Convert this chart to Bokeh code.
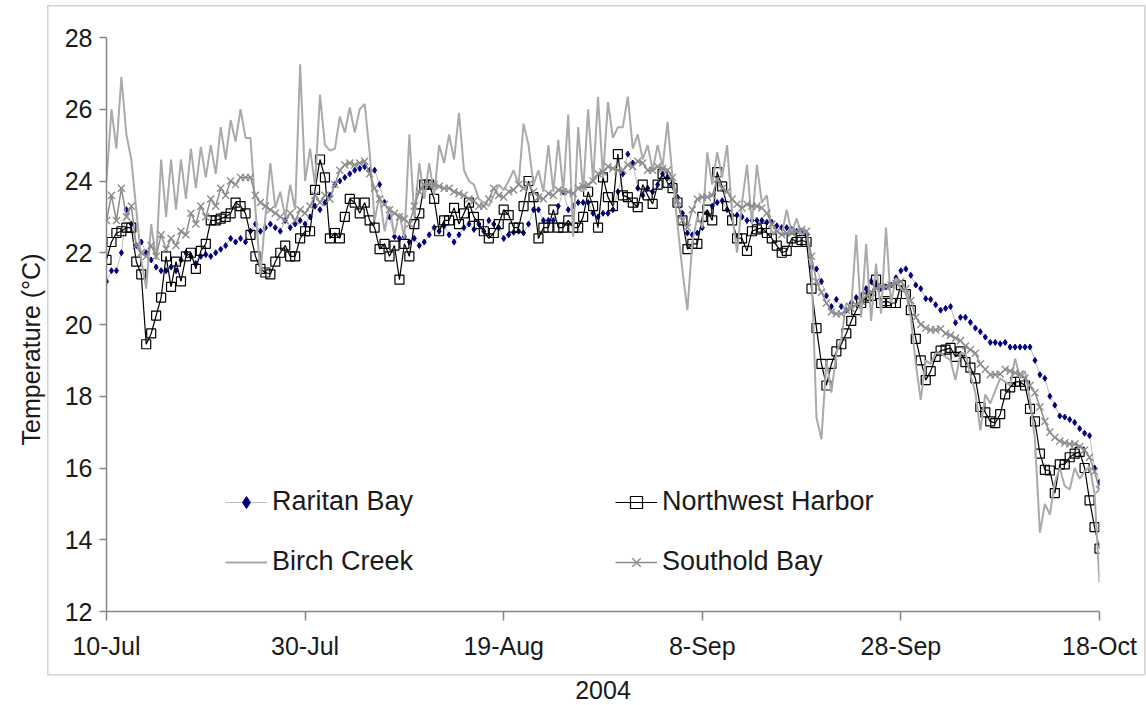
import numpy as np
from bokeh.plotting import figure
from bokeh.models import FixedTicker, Legend, LegendItem, Title
from bokeh.embed import file_html
from bokeh.resources import INLINE

# time axis: days after 10-Jul-2004, half-day steps
days = np.arange(0, 100.5, 0.5)

x_tick_days = [0, 20, 40, 60, 80, 100]
x_tick_labels = ["10-Jul", "30-Jul", "19-Aug", "8-Sep", "28-Sep", "18-Oct"]
y_ticks = [12, 14, 16, 18, 20, 22, 24, 26, 28]

raritan_bay = [
    21.2, 21.5, 21.5, 22.0, 23.2, 22.8, 22.2, 22.3, 22.0, 21.8,
    21.6, 21.5, 21.5, 21.6, 21.5, 21.8, 22.0, 21.9, 21.7, 21.9,
    21.95, 21.9, 22.0, 22.1, 22.2, 22.4, 22.3, 22.4, 22.3, 22.6,
    22.8, 22.6, 22.7, 22.8, 22.7, 22.6, 22.9, 22.7, 22.8, 22.9, 22.8,
    23.0, 23.3, 23.2, 23.4, 23.6, 23.9, 24.0, 24.1, 24.2, 24.3,
    24.35, 24.4, 24.3, 24.3, 23.9, 23.4, 23.0, 22.45, 22.4, 22.45,
    22.3, 22.4, 22.2, 22.3, 22.5, 22.7, 22.6, 22.75, 22.5, 22.3,
    22.5, 22.7, 22.8, 22.65, 22.8, 22.6, 22.9, 22.8, 22.7, 22.4,
    22.5, 22.57, 22.6, 22.55, 22.8, 23.2, 23.2, 22.9, 22.9, 22.9,
    23.3, 23.7, 23.2, 23.3, 23.4, 23.4, 23.4, 23.1, 23.0, 23.1,
    23.1, 23.2, 23.7, 24.2, 24.75, 24.5, 23.8, 23.6, 23.8, 23.7,
    23.9, 24.2, 24.1, 23.95, 23.55, 23.1, 22.55, 22.5, 22.55, 22.7,
    23.1, 23.3, 23.4, 23.45, 23.2, 23.05, 23.05, 23.0, 22.9, 22.9,
    22.9, 22.9, 22.85, 22.85, 22.75, 22.7, 22.7, 22.65, 22.6, 22.6,
    22.5, 21.6, 21.55, 21.2, 20.8, 20.5, 20.7, 20.5, 20.4, 20.6,
    20.75, 20.8, 21.0, 21.2, 21.1, 21.0, 21.05, 21.1, 21.3, 21.5,
    21.55, 21.37, 21.1, 21.0, 20.72, 20.7, 20.55, 20.4, 20.45, 20.5,
    20.05, 20.2, 20.2, 20.06, 19.9, 19.8, 19.65, 19.5, 19.5, 19.46,
    19.5, 19.37, 19.37, 19.37, 19.37, 19.37, 19.0, 18.6, 18.5, 18.0,
    17.75, 17.45, 17.42, 17.35, 17.27, 17.1, 16.97, 16.9, 16.0, 15.6,
]

northwest_harbor = [
    21.8, 22.3, 22.55, 22.6, 22.7, 22.7, 21.75, 21.4, 19.45, 19.75,
    20.25, 20.75, 21.9, 21.05, 21.75, 21.2, 21.9, 22.0, 21.55, 22.05,
    22.25, 22.9, 22.9, 22.95, 23.0, 23.1, 23.4, 23.3, 23.1, 22.5,
    21.9, 21.55, 21.45, 21.4, 21.75, 22.0, 22.2, 21.9, 21.9, 22.4, 22.6,
    22.6, 23.75, 24.6, 24.1, 22.4, 22.55, 22.4, 23.0, 23.5, 23.4,
    23.1, 23.4, 22.9, 22.7, 22.1, 22.25, 21.9, 22.2, 21.25, 22.25,
    21.9, 22.8, 23.1, 23.9, 23.9, 23.5, 22.6, 22.9, 22.9, 23.25,
    22.8, 23.1, 23.4, 23.0, 22.8, 22.6, 22.4, 22.55, 22.8, 23.2,
    23.05, 22.7, 22.7, 23.3, 24.0, 23.55, 22.4, 22.7, 22.7, 23.2,
    22.7, 22.7, 22.9, 22.7, 22.7, 23.0, 23.7, 23.3, 22.7, 24.1,
    23.55, 23.3, 24.75, 23.6, 23.55, 23.4, 23.27, 23.9, 23.6, 23.36,
    23.9, 24.2, 23.95, 23.8, 23.4, 22.9, 22.1, 22.25, 22.25, 23.0,
    23.2, 22.9, 24.25, 23.85, 23.3, 22.9, 22.4, 22.4, 22.05, 22.6,
    22.65, 22.7, 22.55, 22.4, 22.2, 22.0, 22.05, 22.4, 22.3, 22.35,
    22.3, 21.0, 19.9, 18.9, 18.3, 18.9, 19.25, 19.45, 19.75, 20.1,
    20.4, 20.6, 20.75, 20.8, 21.25, 20.6, 20.65, 20.6, 20.6, 21.1,
    20.85, 20.4, 19.6, 19.0, 18.45, 18.7, 19.1, 19.27, 19.3, 19.35,
    19.1, 19.25, 18.95, 18.8, 18.5, 17.7, 17.55, 17.3, 17.25, 17.5,
    18.05, 18.25, 18.4, 18.4, 18.3, 17.65, 17.3, 16.4, 15.95, 15.93,
    15.3, 16.1, 16.1, 16.3, 16.4, 16.45, 16.0, 15.1, 14.35, 13.75,
]

birch_creek = [
    24.0, 26.0, 24.9, 26.9, 25.3, 24.6, 23.2, 21.8, 21.0, 22.8,
    21.8, 24.6, 23.0, 24.6, 23.2, 24.6, 23.5, 24.9, 23.8, 24.95,
    24.1, 25.0, 24.2, 25.5, 24.6, 25.7, 25.1, 26.0, 25.2, 25.2,
    23.2, 21.4, 23.0, 24.5, 23.25, 23.7, 23.0, 23.9, 23.2, 27.25, 24.0,
    24.9, 23.9, 26.4, 25.0, 24.85, 24.9, 25.8, 25.35, 26.05, 25.35,
    26.0, 26.15, 24.8, 22.9, 23.6, 22.6, 23.3, 22.5, 23.1, 22.4,
    25.3, 23.0, 24.5, 23.5, 24.5, 23.6, 25.0, 24.5, 25.3, 24.6,
    25.9, 24.3, 24.0, 23.9, 23.5, 23.4, 23.3, 23.6, 23.9, 23.75,
    24.0, 24.3, 23.9, 25.6, 25.0, 23.9, 24.3, 23.7, 25.0, 23.7,
    25.15, 23.7, 25.85, 22.45, 25.5, 23.7, 26.0, 24.0, 26.35, 24.1,
    26.2, 25.2, 25.5, 25.5, 26.35, 24.9, 25.3, 24.6, 25.0, 24.3,
    25.0, 24.4, 25.65, 24.1, 22.8, 21.5, 20.4, 22.3, 23.0, 22.7,
    24.8, 23.9, 24.8, 24.1, 25.0, 23.1, 22.0, 23.4, 24.45, 22.8,
    24.45, 23.4, 23.6, 22.55, 22.6, 22.5, 23.2, 22.55, 22.95, 22.5,
    22.6, 21.6, 17.4, 16.8, 19.0, 18.1, 19.2, 19.6, 20.6, 20.5,
    22.5, 20.2, 22.25, 20.1, 21.7, 20.3, 22.7, 20.6, 21.3, 21.0,
    20.9, 20.2, 18.9, 17.9, 19.0, 18.9, 19.2, 19.2, 19.1, 19.0,
    18.45, 19.2, 19.2, 18.6, 18.1, 17.05, 18.05, 17.8, 18.15, 18.5,
    18.4, 18.3, 19.05, 18.5, 18.7, 17.9, 16.8, 14.2, 15.0, 14.7,
    15.6, 16.0, 15.5, 15.4, 16.0, 15.7, 15.9, 16.05, 15.3, 12.8,
]

southold_bay = [
    22.9, 23.6, 22.9, 23.8, 23.0, 23.3, 22.2, 22.0, 21.9, 22.2,
    21.9, 22.5, 22.1, 22.4, 22.2, 22.6, 22.5, 23.1, 22.8, 23.3,
    23.0, 23.5, 23.3, 23.8, 23.6, 24.0, 23.9, 24.1, 24.1, 24.1,
    23.6, 23.4, 23.3, 23.2, 23.1, 23.0, 22.9, 23.1, 22.9, 23.2, 23.1,
    23.3, 23.6, 23.4, 23.6, 23.5, 23.9, 24.3, 24.45, 24.5, 24.45,
    24.5, 24.55, 24.2, 23.8, 23.5, 23.35, 23.2, 23.1, 23.0, 22.95,
    22.8, 23.3, 23.7, 23.9, 23.9, 23.9, 23.85, 23.8, 23.8, 23.7,
    23.65, 23.6, 23.5, 23.45, 23.3, 23.3, 23.5, 23.8, 23.6, 23.55,
    23.7, 23.75, 23.9, 23.8, 23.9, 23.7, 23.55, 23.5, 23.65, 23.6,
    23.75, 23.7, 23.7, 23.65, 23.8, 23.85, 23.9, 24.0, 24.2, 24.25,
    24.4, 24.35, 24.3, 24.3, 24.45, 24.4, 24.55, 24.5, 24.3, 24.3,
    24.4, 24.35, 24.3, 24.1, 23.45, 22.9, 22.7, 23.2, 23.5, 23.55,
    23.55, 23.6, 24.05, 23.8, 23.7, 23.5, 23.35, 23.25, 23.35, 23.3,
    23.3, 23.25, 23.1, 22.8, 22.6, 22.5, 22.55, 22.55, 22.6, 22.65,
    22.6, 21.9, 21.2, 20.9, 20.6, 20.35, 20.3, 20.3, 20.4, 20.45,
    20.55, 20.65, 20.8, 20.9, 21.0, 21.05, 21.05, 21.1, 21.15, 21.2,
    21.0, 20.67, 20.2, 20.0, 19.9, 19.85, 19.85, 19.88, 19.75, 19.7,
    19.62, 19.55, 19.4, 19.3, 19.2, 18.9, 18.75, 18.6, 18.6, 18.62,
    18.75, 18.7, 18.65, 18.62, 18.5, 18.3, 18.1, 17.7, 17.3, 17.0,
    16.85, 16.75, 16.7, 16.67, 16.67, 16.6, 16.5, 16.3, 15.9, 15.4,
]

FONT = "Liberation Sans"
TXT = "#1a1a1a"
AXIS = "#868686"
FRAME = "#d4d4d4"

# thin light-grey chart-area border drawn behind the (transparent) canvas margins
border_css = {
    "background-image": ", ".join([f"linear-gradient({FRAME}, {FRAME})"] * 4),
    "background-position": "47px 5px, 47px 674px, 47px 5px, 1144px 5px",
    "background-size": "1098px 1.5px, 1098px 1.5px, 1.5px 670px, 1.5px 670px",
    "background-repeat": "no-repeat",
}

p = figure(width=1146, height=705, x_range=(0, 100), y_range=(12, 28),
           output_backend="svg", toolbar_location=None,
           min_border_left=106, min_border_right=47,
           min_border_top=37, min_border_bottom=94,
           styles=border_css)
p.outline_line_color = None
p.xgrid.visible = False
p.ygrid.visible = False
p.background_fill_color = "white"
p.border_fill_color = None

r1l = p.line(days, raritan_bay, line_color="#bdbdbd", line_width=1)
r1m = p.scatter(days, raritan_bay, marker="diamond", size=6,
                fill_color="#000080", line_color="#000080")
r2l = p.line(days, northwest_harbor, line_color="black", line_width=1.2)
r2m = p.scatter(days, northwest_harbor, marker="square", size=9,
                fill_alpha=0, line_color="black", line_width=1.2)
r3l = p.line(days, birch_creek, line_color="#aaaaaa", line_width=2)
r4l = p.line(days, southold_bay, line_color="#8c8c8c", line_width=1.5)
r4m = p.scatter(days, southold_bay, marker="x", size=10,
                line_color="#8c8c8c", line_width=1.4)

# axes
for ax in (p.xaxis, p.yaxis):
    ax.axis_line_color = AXIS
    ax.axis_line_width = 1.5
    ax.major_tick_line_color = AXIS
    ax.major_tick_line_width = 1.5
    ax.major_tick_in = 0
    ax.minor_tick_line_color = None
    ax.major_label_text_font = FONT
    ax.major_label_text_font_size = "25px"
    ax.major_label_text_color = TXT
    ax.axis_label_text_font = FONT
    ax.axis_label_text_font_style = "normal"
    ax.axis_label_text_color = TXT

p.xaxis.ticker = FixedTicker(ticks=x_tick_days)
p.xaxis.major_label_overrides = {d: l for d, l in zip(x_tick_days, x_tick_labels)}
p.xaxis.major_tick_out = 9
p.xaxis.major_label_standoff = 11
p.xaxis.axis_label = "2004"
p.xaxis.axis_label_text_font_size = "25px"
p.xaxis.axis_label_standoff = 18

p.yaxis.ticker = FixedTicker(ticks=y_ticks)
p.yaxis.major_tick_out = 7
p.yaxis.major_label_standoff = 7

# y-axis title as a side title, starting ~166 px above the frame bottom
ytitle = Title(text="Temperature (°C)", align="left", offset=166, standoff=30,
               vertical_align="top",
               text_font=FONT, text_font_size="25px", text_font_style="normal",
               text_color=TXT)
p.add_layout(ytitle, "left")

legend = Legend(items=[
    LegendItem(label="Raritan Bay", renderers=[r1l, r1m]),
    LegendItem(label="Northwest Harbor", renderers=[r2l, r2m]),
    LegendItem(label="Birch Creek", renderers=[r3l]),
    LegendItem(label="Southold Bay", renderers=[r4l, r4m]),
], orientation="horizontal", ncols=2, location=(119, 34),
    label_text_font=FONT, label_text_font_size="27px", label_text_color=TXT,
    glyph_width=42, glyph_height=30, label_height=30, label_standoff=5,
    label_width=314, spacing=29, padding=0, margin=0,
    border_line_alpha=0, background_fill_alpha=0)
p.add_layout(legend)

open("out.html", "w").write(file_html(p, INLINE))
